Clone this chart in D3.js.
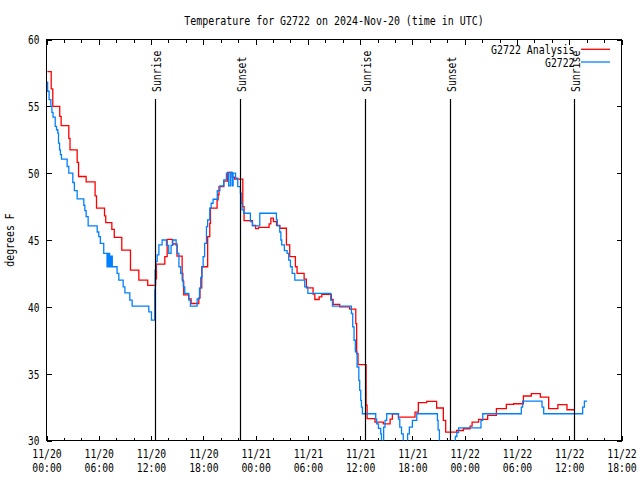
<!DOCTYPE html>
<html><head><meta charset="utf-8">
<script src="https://cdn.jsdelivr.net/npm/d3@7"></script>
<style>html,body{margin:0;padding:0;background:#fff;overflow:hidden;width:640px;height:480px}svg{display:block;overflow:visible}</style>
</head><body>
<svg id="c" width="640" height="480"></svg>
<script>
const titleText = "Temperature for G2722 on 2024-Nov-20 (time in UTC)";
const yLabel = "degrees F";
const seriesNames = ["G2722 Analysis", "G2722"];
const seriesColors = ["#ff0000", "#0080ff"];
const tickHours = [0,6,12,18,24,30,36,42,48,54,60,66];
const tickDates = ["11/20","11/20","11/20","11/20","11/21","11/21","11/21","11/21","11/22","11/22","11/22","11/22"];
const tickTimes = ["00:00","06:00","12:00","18:00","00:00","06:00","12:00","18:00","00:00","06:00","12:00","18:00"];
const minorHours = [2,4,8,10,14,16,20,22,26,28,32,34,38,40,44,46,50,52,56,58,62,64];
const yTicks = [30,35,40,45,50,55,60];
const sunHours = [12.49, 22.25, 36.59, 46.28, 60.58];
const sunNames = ["Sunrise","Sunset","Sunrise","Sunset","Sunrise"];

// G2722 Analysis (hours since 11/20 00:00 UTC, degrees F)
const analysisHours = [0.10,0.54,0.72,1.52,1.68,2.56,2.70,3.52,3.68,4.55,5.58,5.74,6.66,6.80,7.50,7.78,8.64,9.64,10.60,11.62,
 12.52,12.62,13.58,13.85,14.45,14.98,15.57,15.65,15.75,16.33,16.60,17.48,17.62,17.82,18.50,18.74,18.82,19.58,19.70,19.80,
 20.35,20.80,21.30,21.60,22.53,22.68,23.64,24.00,24.33,25.55,25.75,26.05,26.40,26.78,27.54,27.92,28.57,28.76,29.57,29.83,
 30.60,30.80,31.30,31.60,32.70,32.90,33.66,34.80,35.50,35.60,35.76,36.68,36.80,37.70,38.67,39.44,39.70,40.40,42.30,42.68,
 43.64,44.78,45.55,45.82,47.08,47.85,48.62,48.85,49.60,50.64,51.64,52.78,53.62,54.74,55.65,56.68,57.64,58.70,59.74,60.58];
const analysisTemps = [57.6,56.3,55.0,54.25,53.55,52.6,51.75,50.8,49.75,49.35,48.3,47.38,46.8,46.3,45.8,45.2,44.25,42.75,42.0,41.6,
 42.1,43.2,43.75,45.05,44.7,43.8,42.5,41.9,40.9,40.6,40.25,40.67,41.42,43.0,45.25,46.25,47.38,48.0,48.4,49.0,
 49.4,50.05,49.7,49.55,47.5,46.45,46.1,45.85,45.95,46.2,46.63,46.38,46.1,45.88,44.63,43.75,43.0,42.5,42.07,41.42,
 40.95,40.55,40.75,40.93,40.55,40.18,40.0,39.83,38.75,36.5,35.68,32.65,31.63,31.38,31.25,31.6,32.0,31.75,32.13,32.83,
 32.93,32.43,31.5,30.63,30.75,30.88,31.07,31.38,31.58,31.88,32.38,32.7,32.75,33.33,33.5,33.25,32.38,32.68,32.3,32.3];

// G2722 observations
const obsHours = [0.05,0.13,0.30,0.50,0.62,0.75,1.00,1.15,1.30,1.38,1.50,1.60,1.72,2.37,2.56,3.02,3.20,3.52,4.28,4.40,
 4.55,4.78,5.82,6.00,6.18,6.57,6.95,7.10,7.25,7.40,7.55,8.10,8.30,8.80,9.00,9.56,9.83,11.74,12.05,12.42,
 12.47,12.55,12.70,12.90,13.27,13.77,14.03,14.30,14.50,14.88,15.00,15.20,15.40,15.57,15.70,15.87,16.33,16.52,17.29,17.56,
 17.70,17.85,17.98,18.15,18.36,18.50,18.74,18.90,19.12,19.60,19.90,20.35,20.65,20.90,21.10,21.30,21.42,21.70,21.95,22.26,
 22.35,22.45,22.64,23.40,23.64,24.48,26.39,26.50,26.77,26.90,27.00,27.30,27.62,27.80,28.00,28.20,28.50,29.64,30.00,32.62,
 32.82,35.00,35.15,35.30,35.45,35.65,35.85,35.95,36.07,36.15,36.26,37.79,37.90,38.10,38.36,38.45,38.70,38.86,39.05,40.40,
 40.55,40.75,40.95,41.45,41.65,42.00,42.50,44.87,44.95,45.10,46.93,47.10,47.30,49.87,50.07,54.50,54.65,56.88,57.07,61.54,
 61.74,62.04];
const obsTemps = [56.8,56.13,55.5,55.0,54.55,54.2,53.5,53.25,53.0,52.25,51.75,51.38,51.05,50.5,50.0,49.3,48.7,48.07,47.6,47.2,
 46.75,46.05,45.6,45.25,44.75,44.0,43.0,44.0,43.0,43.8,43.0,42.5,42.0,41.5,41.05,40.5,40.05,39.63,39.0,41.25,
 42.75,43.4,43.88,44.63,45.0,44.6,44.0,44.6,45.0,44.6,44.0,43.0,42.5,42.0,41.5,41.0,40.5,40.05,40.6,41.38,
 42.2,43.0,43.75,44.75,46.0,46.5,47.38,47.75,48.05,48.7,49.05,49.5,50.0,49.05,50.05,49.05,50.0,49.62,49.0,48.5,
 47.75,47.25,47.0,46.38,46.05,47.0,46.5,46.05,45.6,45.0,44.63,44.2,44.0,43.5,43.0,42.5,42.0,41.5,41.0,40.5,
 40.05,39.5,38.5,37.5,36.63,35.5,34.5,33.75,33.0,32.5,32.0,31.6,31.25,30.9,30.5,29.0,31.0,31.5,32.0,31.6,
 31.0,30.5,29.0,30.5,31.0,31.5,32.0,31.5,30.8,29.0,30.3,30.6,30.95,31.5,32.0,32.5,32.95,32.5,32.0,32.5,
 32.95,32.95];

const FONT = "'DejaVu Sans Mono', monospace";
const CW = 6; // character advance in px
function fit(sel){ sel.each(function(){ const n=this.textContent.length; if(n>0){ this.setAttribute("textLength", n*CW-0.6); this.setAttribute("lengthAdjust","spacingAndGlyphs"); } }); }

const L=46.5, R=621.5, T=39.5, B=440.5;
const svg = d3.select("#c");
const x = d3.scaleLinear().domain([0,66]).range([L,R]);
const y = d3.scaleLinear().domain([30,60]).range([B,T]);

svg.append("defs").append("clipPath").attr("id","clip")
  .append("rect").attr("x",L).attr("y",T).attr("width",R-L).attr("height",B-T);

// title
svg.append("text").attr("x",(L+R)/2).attr("y",24.5).attr("text-anchor","middle")
  .style("font-family",FONT).style("font-size","12px").text(titleText).call(fit);

// axes
function styleAxis(g){ g.select(".domain").remove(); g.selectAll("line").attr("stroke","#000").attr("shape-rendering","crispEdges"); g.attr("font-family",null).attr("font-size",null); }
const xb = svg.append("g").attr("transform",`translate(0,${B})`)
  .call(d3.axisBottom(x).tickValues(tickHours).tickSizeInner(-5).tickSizeOuter(0).tickFormat((d,i)=>tickDates[i]));
styleAxis(xb);
xb.selectAll(".tick text").attr("y",17.8).attr("dy",null)
  .style("font-family",FONT).style("font-size","12px").attr("fill","#000").call(fit);
xb.selectAll(".tick").append("text").attr("y",31.3).attr("text-anchor","middle")
  .style("font-family",FONT).style("font-size","12px").attr("fill","#000")
  .text((d,i)=>tickTimes[i]).call(fit);
const xbm = svg.append("g").attr("transform",`translate(0,${B})`)
  .call(d3.axisBottom(x).tickValues(minorHours).tickSizeInner(-3).tickSizeOuter(0).tickFormat(""));
styleAxis(xbm);
const xt = svg.append("g").attr("transform",`translate(0,${T})`)
  .call(d3.axisTop(x).tickValues(tickHours).tickSizeInner(-5).tickSizeOuter(0).tickFormat(""));
styleAxis(xt);
const xtm = svg.append("g").attr("transform",`translate(0,${T})`)
  .call(d3.axisTop(x).tickValues(minorHours).tickSizeInner(-3).tickSizeOuter(0).tickFormat(""));
styleAxis(xtm);
const yl = svg.append("g").attr("transform",`translate(${L},0)`)
  .call(d3.axisLeft(y).tickValues(yTicks).tickSizeInner(-5).tickSizeOuter(0).tickPadding(7).tickFormat(d3.format("d")));
styleAxis(yl);
yl.selectAll(".tick text").attr("dy","0.37em").style("font-family",FONT).style("font-size","12px").attr("fill","#000").call(fit);
const yr = svg.append("g").attr("transform",`translate(${R},0)`)
  .call(d3.axisRight(y).tickValues(yTicks).tickSizeInner(-5).tickSizeOuter(0).tickFormat(""));
styleAxis(yr);

// frame
svg.append("rect").attr("x",L).attr("y",T).attr("width",R-L).attr("height",B-T)
  .attr("fill","none").attr("stroke","#000").attr("stroke-width",1).attr("shape-rendering","crispEdges");

// y label
svg.append("text").attr("transform",`translate(14,${(T+B)/2}) rotate(-90)`).attr("text-anchor","middle")
  .style("font-family",FONT).style("font-size","12px").text(yLabel).call(fit);

// series
const line = d3.line().x(d=>x(d[0])).y(d=>y(d[1])).curve(d3.curveStepAfter);
const series = [d3.zip(analysisHours, analysisTemps), d3.zip(obsHours, obsTemps)];
series.forEach((s,i)=>{
  svg.append("path").datum(s).attr("clip-path","url(#clip)").attr("fill","none")
    .attr("stroke",seriesColors[i]).attr("stroke-width",1.3).attr("d",line);
});

// sunrise / sunset markers
sunHours.forEach((h,i)=>{
  const sx = Math.round(x(h))+0.5;
  svg.append("line").attr("x1",sx).attr("x2",sx).attr("y1",99).attr("y2",B)
    .attr("stroke","#000").attr("stroke-width",1.2);
  svg.append("text").attr("transform",`translate(${sx+5},92) rotate(-90)`).attr("text-anchor","start")
    .style("font-family",FONT).style("font-size","12px").text(sunNames[i]).call(fit);
});

// legend
seriesNames.forEach((n,i)=>{
  const by = 54 + i*12.7;
  svg.append("text").attr("x",574.5).attr("y",by).attr("text-anchor","end")
    .style("font-family",FONT).style("font-size","12px").text(n).call(fit);
  svg.append("line").attr("x1",581).attr("x2",610).attr("y1",by-4.7).attr("y2",by-4.7)
    .attr("stroke",seriesColors[i]).attr("stroke-width",1.3);
});
</script>
</body></html>
